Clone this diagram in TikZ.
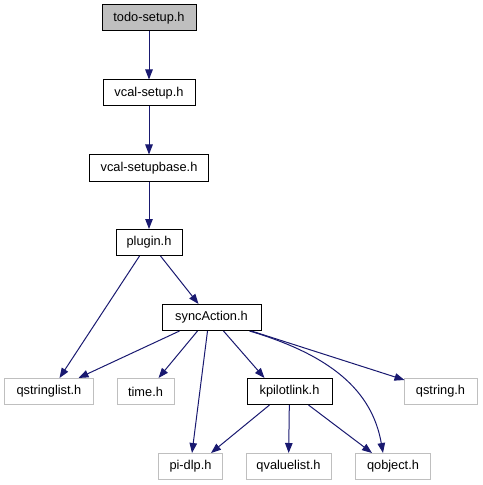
\documentclass[tikz,border=0pt]{standalone}
\usepackage{fontspec}
\setmainfont{Liberation Sans}
\usetikzlibrary{arrows.meta,calc}
\definecolor{edgecol}{HTML}{191970}
\definecolor{grayfill}{HTML}{BFBFBF}
\definecolor{grayline}{HTML}{BFBFBF}
\begin{document}
\begin{tikzpicture}[x=1bp,y=-1bp,
  box/.style={draw=black,fill=white,line width=1bp,minimum height=26bp,inner sep=0pt,font=\fontsize{12.8bp}{14bp}\selectfont},
  rootbox/.style={box,fill=grayfill},
  extbox/.style={box,draw=grayline},
  dep/.style={draw=edgecol,line width=1bp,-{Triangle[length=10bp,width=7.5bp]}}]
\useasboundingbox (0,0) rectangle (483,485);
\node[rootbox,minimum width=94bp] (todo) at (149,18) {todo-setup.h};
\node[box,minimum width=92bp] (vcal) at (149,93) {vcal-setup.h};
\node[box,minimum width=119bp] (base) at (149,168) {vcal-setupbase.h};
\node[box,minimum width=66bp] (plugin) at (149,242.5) {plugin.h};
\node[box,minimum width=99bp] (sync) at (211.5,317.5) {syncAction.h};
\node[extbox,minimum width=88bp] (qsl) at (49,391.5) {qstringlist.h};
\node[extbox,minimum width=57bp] (time) at (145.5,391.5) {time.h};
\node[box,minimum width=85bp] (kpl) at (289.5,391.5) {kpilotlink.h};
\node[extbox,minimum width=73bp] (qstr) at (440.5,391.5) {qstring.h};
\node[extbox,minimum width=64bp] (pidlp) at (190.5,466.5) {pi-dlp.h};
\node[extbox,minimum width=85bp] (qvl) at (288.5,466.5) {qvaluelist.h};
\node[extbox,minimum width=75bp] (qobj) at (393,466.5) {qobject.h};
\draw[dep] (todo) -- (vcal);
\draw[dep] (vcal) -- (base);
\draw[dep] (base) -- (plugin);
\draw[dep] ($(plugin.south west)+(24,0)$) -- ($(qsl.north west)+(55,0)$);
\draw[dep] ($(plugin.south east)+(-22,0)$) -- ($(sync.north west)+(37,0)$);
\draw[dep] ($(sync.south west)+(18,0)$) -- ($(qsl.north east)+(-15,0)$);
\draw[dep] ($(sync.south west)+(36,0)$) -- ($(time.north east)+(-16,0)$);
\draw[dep] ($(sync.south west)+(46,0)$) -- ($(pidlp.north)+(1.5,0)$);
\draw[dep] ($(sync.south west)+(62,0)$) -- ($(kpl.north west)+(18,0)$);
\draw[dep] ($(sync.south east)+(-10,0)$) -- ($(qstr.north west)+(1,2)$);
\draw[dep] ($(sync.south east)+(-12,0)$) .. controls (330,355) and (372,390) .. ($(qobj.north)+(-10,0)$);
\draw[dep] ($(kpl.south west)+(23,0)$) -- ($(pidlp.north east)+(-12,0)$);
\draw[dep] (kpl) -- (qvl);
\draw[dep] ($(kpl.south east)+(-24,0)$) -- ($(qobj.north west)+(17,0)$);
\end{tikzpicture}
\end{document}
